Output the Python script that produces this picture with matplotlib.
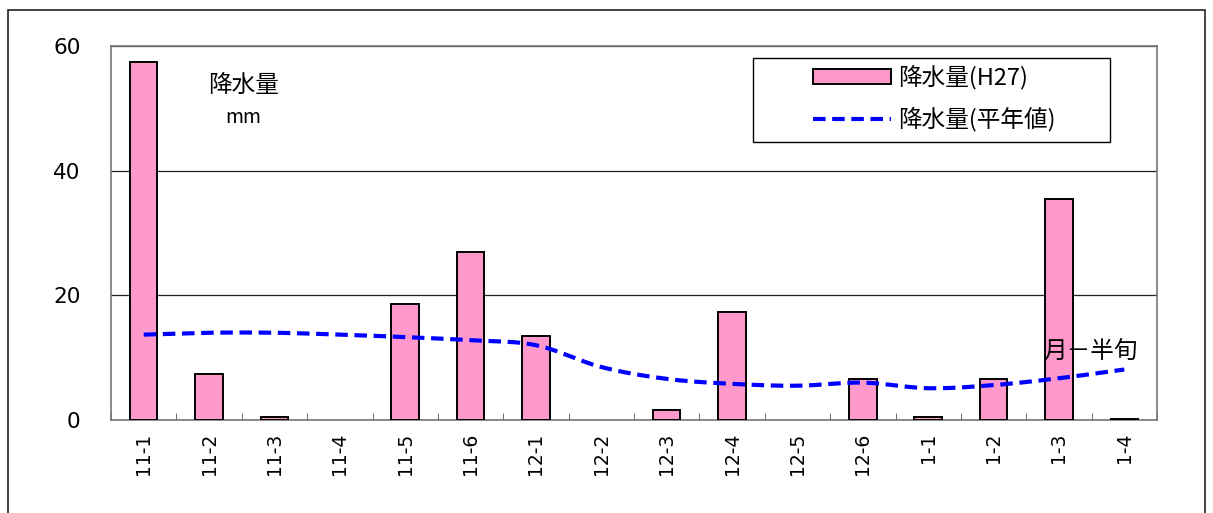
import numpy as np
import matplotlib
matplotlib.use('Agg')
import matplotlib.pyplot as plt
from matplotlib.patches import Rectangle
from matplotlib.lines import Line2D

plt.rcParams['font.family'] = ['Noto Sans CJK JP', 'DejaVu Sans']

# data
categories = ['11-1', '11-2', '11-3', '11-4', '11-5', '11-6',
              '12-1', '12-2', '12-3', '12-4', '12-5', '12-6',
              '1-1', '1-2', '1-3', '1-4']
rain_h27 = [57.5, 7.4, 0.5, 0.0, 18.6, 27.0, 13.4, 0.0, 1.6, 17.4, 0.0, 6.5, 0.5, 6.5, 35.5, 0.1]
rain_normal = [13.7, 14.0, 14.0, 13.7, 13.3, 12.8, 12.0, 8.5, 6.6, 5.8, 5.5, 6.0, 5.1, 5.6, 6.7, 8.1]
yticks = [0, 20, 40, 60]


def smooth(x, y, n=20):
    # Catmull-Rom style smoothing like the spreadsheet's smoothed line
    x = np.asarray(x, float)
    y = np.asarray(y, float)
    px = np.concatenate([[2 * x[0] - x[1]], x, [2 * x[-1] - x[-2]]])
    py = np.concatenate([[2 * y[0] - y[1]], y, [2 * y[-1] - y[-2]]])
    xs, ys = [], []
    t = np.linspace(0, 1, n, endpoint=False)
    for i in range(1, len(px) - 2):
        for arr, out in ((px, xs), (py, ys)):
            p0, p1, p2, p3 = arr[i - 1], arr[i], arr[i + 1], arr[i + 2]
            out.extend(0.5 * (2 * p1 + (-p0 + p2) * t + (2 * p0 - 5 * p1 + 4 * p2 - p3) * t ** 2
                              + (-p0 + 3 * p1 - 3 * p2 + p3) * t ** 3))
    xs.append(x[-1])
    ys.append(y[-1])
    return xs, ys


def axfrac(px, py):
    # reference pixel -> axes fraction
    return (px - 111) / 1046, (420 - py) / 374


fig = plt.figure(figsize=(12.13, 5.13), dpi=100)
fig.patches.append(Rectangle((8 / 1213, -0.01), 1197 / 1213, 1 - 10 / 513 + 0.01,
                             transform=fig.transFigure, fill=False, edgecolor='#222222', linewidth=1.2))
ax = fig.add_axes([111 / 1213, 1 - 420 / 513, (1157 - 111) / 1213, (420 - 46) / 513])

x = np.arange(len(categories))
lw = [1.4 if v > 0 else 0 for v in rain_h27]
ax.bar(x, rain_h27, width=0.42, color='#ff99cc', edgecolor='black', linewidth=lw, zorder=3)
sx, sy = smooth(x, rain_normal)
ax.plot(sx, sy, color='#0000ff', linestyle=(0, (3, 1.6)), linewidth=3, zorder=4)

ax.set_xlim(-0.5, len(categories) - 0.5)
ax.set_ylim(0, 60)
ax.set_yticks(yticks)
ax.set_yticklabels([str(v) for v in yticks], fontsize=15.5, family=['DejaVu Sans'])
ax.tick_params(axis='y', length=0, pad=22)
ax.yaxis.grid(True, color='#222222', linewidth=0.9)
ax.set_axisbelow(True)

ax.set_xticks(x)
ax.set_xticklabels(categories, rotation=90, fontsize=13.5, family=['DejaVu Sans'])
ax.tick_params(axis='x', which='major', length=0, pad=9)
ax.set_xticks(np.arange(len(categories) + 1) - 0.5, minor=True)
ax.tick_params(axis='x', which='minor', direction='in', length=5, color='#555555')

for s in ax.spines.values():
    s.set_color('#777777')
    s.set_linewidth(1.2)

ax.text(1.52, 53.7, '降水量', fontsize=17, ha='center', va='center')
ax.text(1.52, 48.6, 'mm', fontsize=14, ha='center', va='center')
ax.text(15.21, 11.0, '月－半旬', fontsize=17, ha='right', va='center', zorder=5)

# legend box drawn separately so it keeps the reference width
x0, y0 = axfrac(753, 142)
x1, y1 = axfrac(1110, 58)
ax.add_patch(Rectangle((x0, y0), x1 - x0, y1 - y0, transform=ax.transAxes,
                       facecolor='white', edgecolor='black', linewidth=1.0, zorder=5))
handles = [Rectangle((0, 0), 1, 1, facecolor='#ff99cc', edgecolor='black', linewidth=1.4),
           Line2D([0], [0], color='#0000ff', linestyle=(0, (3, 1.6)), linewidth=3)]
leg = ax.legend(handles, ['降水量(H27)', '降水量(平年値)'], loc='upper left',
                bbox_to_anchor=axfrac(808, 60), fontsize=17, frameon=False,
                handlelength=3.3, handleheight=0.6, handletextpad=0.3,
                borderpad=0.2, labelspacing=0.75, borderaxespad=0)
leg.set_zorder(6)

fig.savefig('out.png', dpi=100)
